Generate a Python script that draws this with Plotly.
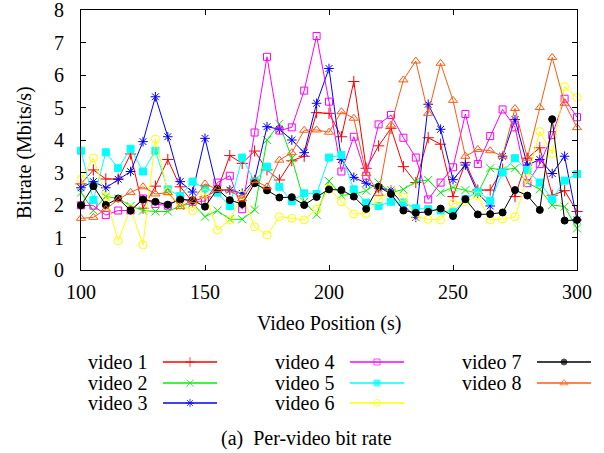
import plotly.graph_objects as go

positions = [100, 105, 110, 115, 120, 125, 130, 135, 140, 145,
             150, 155, 160, 165, 170, 175, 180, 185, 190, 195, 200,
             205, 210, 215, 220, 225, 230, 235, 240, 245, 250,
             255, 260, 265, 270, 275, 280, 285, 290, 295, 300]

video1 = [2.65, 3.08, 2.8, 2.8, 3.57, 1.9, 2.58, 3.4, 2.56, 2.1,
          2.25, 2.46, 3.52, 3.28, 3.66, 3.08, 2.77, 3.36, 3.5, 4.84, 4.82,
          4.1, 5.8, 3.13, 3.82, 4.36, 3.18, 2.69, 4.07, 3.87, 2.26,
          3.3, 2.46, 2.46, 3.1, 2.26, 3.44, 3.76, 2.3, 2.44, 1.8]
video2 = [2.38, 1.83, 2.26, 2.2, 1.97, 1.83, 1.8, 1.8, 1.97, 2.05,
          1.64, 1.83, 1.56, 1.56, 1.85, 4.0, 4.5, 3.44, 2.1, 1.7, 2.74,
          2.3, 2.33, 2.44, 2.69, 2.38, 2.48, 2.72, 2.77, 2.38, 2.54,
          2.46, 2.36, 3.13, 3.08, 3.13, 2.69, 2.48, 2.0, 1.95, 1.28]
video3 = [2.53, 2.72, 2.53, 2.79, 3.03, 3.95, 5.33, 4.1, 2.72, 2.4,
          4.05, 2.46, 2.46, 2.36, 2.77, 4.41, 4.33, 4.0, 3.61, 5.13, 6.2,
          3.4, 2.85, 2.67, 2.52, 2.46, 2.0, 1.62, 5.1, 4.33, 2.78,
          3.23, 2.36, 1.97, 3.5, 4.63, 3.23, 3.4, 2.97, 3.5, 1.54]
video4 = [1.99, 1.98, 1.69, 1.83, 1.83, 2.2, 2.03, 1.98, 2.2, 2.1,
          2.12, 2.69, 2.9, 1.87, 4.23, 6.56, 4.29, 4.39, 5.52, 7.2, 5.18,
          3.03, 4.1, 2.9, 4.48, 4.77, 4.07, 3.46, 2.17, 2.69, 3.16,
          4.8, 3.26, 4.12, 4.94, 4.39, 2.67, 3.26, 4.15, 5.27, 4.7]
video5 = [3.67, 2.15, 3.62, 3.13, 3.73, 3.03, 3.67, 2.48, 2.28, 2.72,
          2.51, 2.38, 1.97, 3.46, 2.72, 3.18, 2.56, 2.12, 2.36, 2.34, 3.46,
          3.54, 2.48, 2.07, 1.97, 2.1, 2.08, 1.9, 1.87, 1.83, 1.78,
          2.18, 2.41, 2.13, 3.0, 3.44, 3.08, 2.69, 2.18, 2.75, 2.95]
video6 = [2.79, 3.45, 2.26, 0.9, 1.9, 0.77, 4.03, 2.41, 2.0, 1.82,
          2.36, 1.23, 1.54, 2.31, 1.33, 1.08, 1.64, 1.59, 1.54, 1.87, 2.51,
          2.1, 1.72, 1.74, 2.15, 2.46, 2.24, 1.64, 1.56, 1.54, 2.04,
          2.1, 2.28, 1.54, 1.57, 1.64, 2.82, 4.26, 3.57, 5.64, 5.31]
video7 = [1.99, 2.58, 2.0, 2.2, 1.83, 2.17, 2.1, 2.01, 2.17, 2.15,
          1.95, 2.49, 2.15, 2.03, 2.67, 2.45, 2.23, 2.24, 2.0, 2.25, 2.48,
          2.46, 2.26, 1.88, 2.56, 2.34, 1.83, 1.76, 1.79, 1.89, 1.66,
          2.18, 1.71, 1.72, 1.77, 2.46, 2.29, 1.85, 4.64, 1.52, 1.54]
video8 = [1.59, 1.62, 1.87, 2.17, 2.39, 2.56, 2.34, 2.38, 1.95, 2.14,
          2.65, 2.48, 2.46, 2.19, 2.75, 2.56, 3.38, 3.61, 4.3, 4.31, 4.24,
          4.87, 4.67, 2.97, 2.36, 4.46, 5.85, 6.43, 4.82, 6.36, 5.22,
          3.5, 3.71, 3.67, 3.5, 4.97, 3.44, 5.0, 6.54, 5.13, 4.38]

names = ["video 1", "video 2", "video 3", "video 4", "video 5", "video 6", "video 7", "video 8"]
series = [video1, video2, video3, video4, video5, video6, video7, video8]
colors = ["#FF0000", "#00F000", "#0000FF", "#FF00FF", "#00FFFF", "#FFFF00", "#000000", "#FF5A10"]
symbols = ["cross-thin-open", "x-thin-open", "asterisk-open", "square-open",
           "square", "circle-open", "circle", "triangle-up-open"]
sizes = [8, 8, 8, 7, 7, 8, 7, 8]

x_ticks = [100, 150, 200, 250, 300]
y_ticks = [0, 1, 2, 3, 4, 5, 6, 7, 8]

W, H = 604, 453
FONT = "Liberation Serif"

fig = go.Figure()
for name, ys, c, s, sz in zip(names, series, colors, symbols, sizes):
    fig.add_trace(go.Scatter(
        x=positions, y=ys, mode="lines+markers", name=name,
        line=dict(color=c, width=1),
        marker=dict(symbol=s, size=sz, color=c, line=dict(color=c, width=1)),
        showlegend=False, xaxis="x", yaxis="y", cliponaxis=False))

# gnuplot-style key (label left of the sample), laid out on a hidden pixel-space axis
rows = [362, 383, 403]
col_line_x0 = [163, 350, 537]
line_len = 54
for i, (name, c, s, sz) in enumerate(zip(names, colors, symbols, sizes)):
    col, row = divmod(i, 3)
    x0 = col_line_x0[col]
    yy = rows[row]
    fig.add_trace(go.Scatter(
        x=[x0, x0 + line_len / 2, x0 + line_len], y=[yy, yy, yy],
        mode="lines+markers", showlegend=False, hoverinfo="skip",
        line=dict(color=c, width=1.3),
        marker=dict(symbol=s, size=[0, sz - 1, 0], color=c, line=dict(color=c, width=1)),
        xaxis="x2", yaxis="y2", cliponaxis=False))
    fig.add_annotation(x=x0 - 14, y=yy, xref="x2", yref="y2", text=name,
                       showarrow=False, xanchor="right", yanchor="middle",
                       font=dict(family=FONT, size=20, color="black"))

x_dom = [81 / W, 577 / W]
y_dom = [(H - 270) / H, (H - 10) / H]

fig.update_layout(
    width=W, height=H,
    margin=dict(l=0, r=0, t=0, b=0, pad=0, autoexpand=False),
    paper_bgcolor="white", plot_bgcolor="rgba(0,0,0,0)",
    font=dict(family=FONT, size=20, color="black"),
    showlegend=False,
    xaxis=dict(domain=x_dom, range=[100, 300], tickvals=x_ticks,
               ticks="inside", ticklen=5, tickcolor="black", mirror="ticks",
               showline=True, linecolor="black", linewidth=1.2,
               showgrid=False, zeroline=False, ticklabelstandoff=4,
               ticklabeloverflow="allow", automargin=False,
               tickfont=dict(family=FONT, size=20), anchor="y"),
    yaxis=dict(domain=y_dom, range=[0, 8], tickvals=y_ticks,
               ticks="inside", ticklen=5, tickcolor="black", mirror="ticks",
               showline=True, linecolor="black", linewidth=1.2,
               showgrid=False, zeroline=False, ticklabelstandoff=12,
               ticklabeloverflow="allow", automargin=False,
               tickfont=dict(family=FONT, size=20), anchor="x"),
    xaxis2=dict(domain=[0, 1], range=[0, W], visible=False, anchor="y2",
                fixedrange=True, automargin=False),
    yaxis2=dict(domain=[0, 0.38], range=[H, H * (1 - 0.38)], visible=False,
                anchor="x2", fixedrange=True, automargin=False),
)

fig.add_annotation(x=329 / W, y=1 - 323 / H, xref="paper", yref="paper",
                   text="Video Position (s)", showarrow=False,
                   xanchor="center", yanchor="middle", font=dict(family=FONT, size=20))
fig.add_annotation(x=25 / W, y=1 - 153 / H, xref="paper", yref="paper",
                   text="Bitrate (Mbits/s)", showarrow=False, textangle=-90,
                   xanchor="center", yanchor="middle", font=dict(family=FONT, size=20))
fig.add_annotation(x=306 / W, y=1 - 438 / H, xref="paper", yref="paper",
                   text="(a)  Per-video bit rate", showarrow=False,
                   xanchor="center", yanchor="middle", font=dict(family=FONT, size=20))

fig.write_html("out.html",
               config={"displayModeBar": False},
               post_script="document.body.style.margin='0px';document.body.style.overflow='hidden';")
